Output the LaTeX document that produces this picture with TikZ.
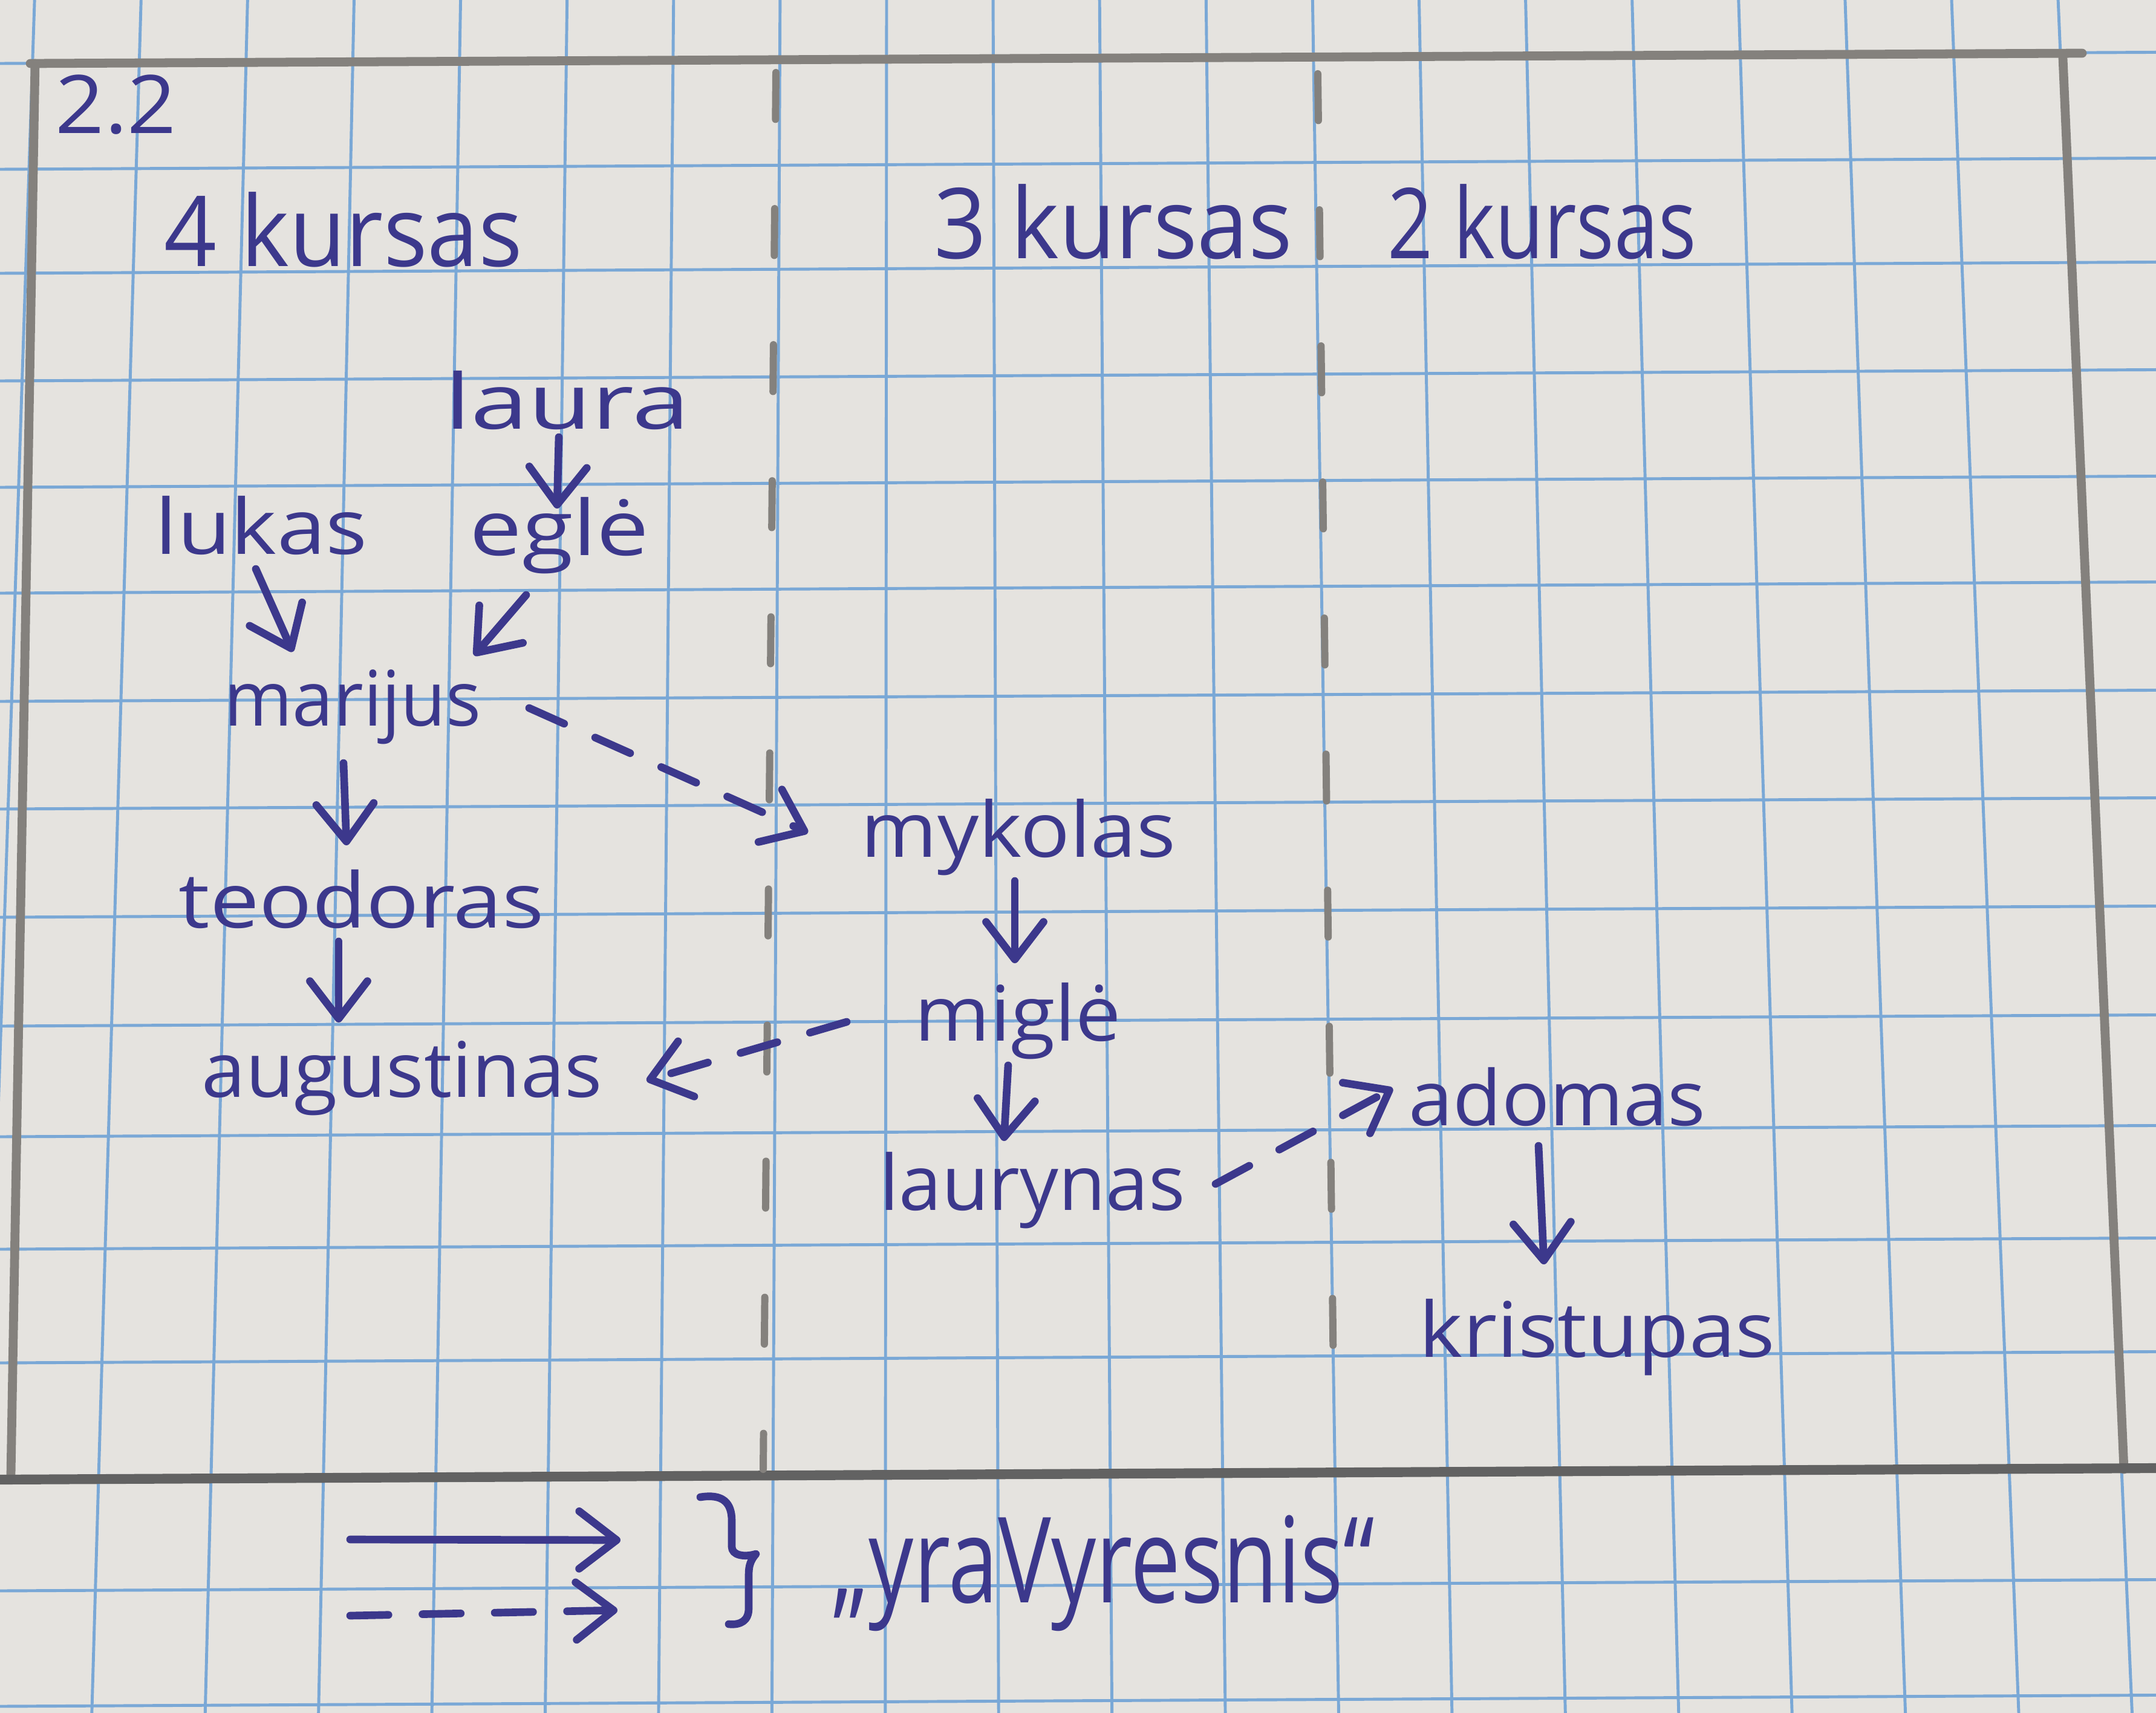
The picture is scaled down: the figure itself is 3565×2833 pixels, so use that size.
\documentclass[tikz,border=0pt]{standalone}
\usepackage{fontspec}
\setmainfont{Open Sans}
\usepackage{graphicx}
\usetikzlibrary{arrows.meta}

\definecolor{paper}{RGB}{229,227,223}
\definecolor{gridblue}{RGB}{122,168,214}
\definecolor{pencil}{RGB}{132,129,125}
\definecolor{pencildark}{RGB}{98,98,98}
\definecolor{ink}{RGB}{60,56,140}

% stretch a handwritten word to a given width, keeping its height
\newcommand{\hw}[2]{\resizebox{#1}{\height}{#2}}

\tikzset{
  person/.style={anchor=base, inner sep=0pt, text=ink, font=\fontsize{36}{40}\selectfont},
  heading/.style={anchor=base, inner sep=0pt, text=ink, font=\fontsize{46}{52}\selectfont},
  pen/.style={draw=ink, line width=3.6pt, line cap=round, line join=round},
  penarrow/.style={pen, -{Straight Barb[length=0.62cm, width=0.95cm, round]}},
  pendash/.style={penarrow, dash pattern=on 18pt off 16pt},
  gridline/.style={draw=gridblue, line width=1.4pt},
  pencilline/.style={draw=pencil, line width=4.2pt, line cap=round},
  pencildash/.style={pencilline, line width=3.4pt, dash pattern=on 22pt off 42pt},
}

\begin{document}
\begin{tikzpicture}[x=0.01cm, y=-0.01cm]
\useasboundingbox (0,0) rectangle (3565,2833);
\fill[paper] (0,0) rectangle (3565,2833);

% squared paper
\foreach \i in {-1,...,18}{
  \pgfmathsetmacro{\xc}{193+181.7*\i}
  \pgfmathsetmacro{\xt}{\xc-(\xc-1500)*0.0308}
  \pgfmathsetmacro{\xb}{\xc+(\xc-1500)*0.0315}
  \draw[gridline] (\xt,0) -- (\xb,2833);
}
\foreach \y in {105,280,452,630,806,981,1160,1338,1517,1697,1880,2066,2254,2443,2631,2822}{
  \pgfmathsetmacro{\s}{-0.0052+0.0000016*\y}
  \draw[gridline] (0,\y) -- (3565,{\y+\s*3565});
}

% pencil frame and column separators
\draw[pencilline] (50,105) -- (3443,88);
\draw[pencilline] (3411,96) -- (3512,2430);
\draw[pencilline] (58,105) -- (18,2440);
\draw[pencilline, draw=pencildark, line width=4.6pt] (0,2447) -- (3565,2428);
\draw[pencildash] (1283,120) -- (1262,2430);
\draw[pencildash] (2179,122) -- (2206,2368);

% section number and year headings
\node[person, font=\fontsize{38}{42}\selectfont] (num) at (192,220) {\hw{2.0cm}{2.2}};
\node[heading] (k4) at (568,440) {\hw{5.92cm}{4 kursas}};
\node[heading] (k3) at (1841,427) {\hw{5.92cm}{3 kursas}};
\node[heading] (k2) at (2550,427) {\hw{5.10cm}{2 kursas}};

% students
\node[person] (laura) at (938,709) {\hw{4.05cm}{laura}};
\node[person] (lukas) at (432,916) {\hw{3.51cm}{lukas}};
\node[person] (egle) at (925,918) {\hw{2.97cm}{eglė}};
\node[person] (marijus) at (583,1200) {\hw{4.25cm}{marijus}};
\node[person] (teodoras) at (598,1534) {\hw{6.04cm}{teodoras}};
\node[person] (augustinas) at (665,1814) {\hw{6.62cm}{augustinas}};
\node[person] (mykolas) at (1684,1417) {\hw{5.20cm}{mykolas}};
\node[person] (migle) at (1683,1721) {\hw{3.41cm}{miglė}};
\node[person] (laurynas) at (1707,2001) {\hw{5.05cm}{laurynas}};
\node[person] (adomas) at (2575,1861) {\hw{4.91cm}{adomas}};
\node[person] (kristupas) at (2641,2244) {\hw{5.88cm}{kristupas}};

% relations
\draw[penarrow] ([shift={(-14,14)}]laura.base) -- ([shift={(-4,-77)}]egle.base);
\draw[penarrow] ([shift={(-9,25)}]lukas.base) -- ([shift={(-99,-122)}]marijus.base);
\draw[penarrow] ([shift={(-55,66)}]egle.base) -- ([shift={(201,-116)}]marijus.base);
\draw[pendash] ([shift={(292,-29)}]marijus.base) -- ([shift={(-348,-40)}]mykolas.base);
\draw[penarrow] ([shift={(-15,62)}]marijus.base) -- ([shift={(-25,-136)}]teodoras.base);
\draw[penarrow] ([shift={(-38,23)}]teodoras.base) -- ([shift={(-105,-123)}]augustinas.base);
\draw[penarrow] ([shift={(-6,40)}]mykolas.base) -- ([shift={(-5,-128)}]migle.base);
\draw[pendash] ([shift={(-283,-31)}]migle.base) -- ([shift={(404,-27)}]augustinas.base);
\draw[penarrow] ([shift={(-16,41)}]migle.base) -- ([shift={(-47,-114)}]laurynas.base);
\draw[pendash] ([shift={(303,-43)}]laurynas.base) -- ([shift={(-272,-61)}]adomas.base);
\draw[penarrow] ([shift={(-31,34)}]adomas.base) -- ([shift={(-88,-153)}]kristupas.base);

% legend
\coordinate (ls1) at (579,2546);
\coordinate (ls2) at (1026,2547);
\coordinate (ld1) at (579,2672);
\coordinate (ld2) at (1021,2663);
\draw[penarrow] (ls1) -- (ls2);
\draw[pendash] (ld1) -- (ld2);
\draw[pen] (1158,2476) .. controls (1195,2470) and (1210,2485) .. (1210,2515)
  -- (1210,2558) .. controls (1210,2572) and (1230,2576) .. (1250,2570)
  .. controls (1238,2584) and (1238,2594) .. (1238,2610)
  -- (1238,2660) .. controls (1238,2680) and (1225,2688) .. (1205,2686);
\node[person, font=\fontsize{56}{62}\selectfont] (yra) at (1825,2650) {\hw{8.95cm}{„yraVyresnis“}};
\end{tikzpicture}
\end{document}
